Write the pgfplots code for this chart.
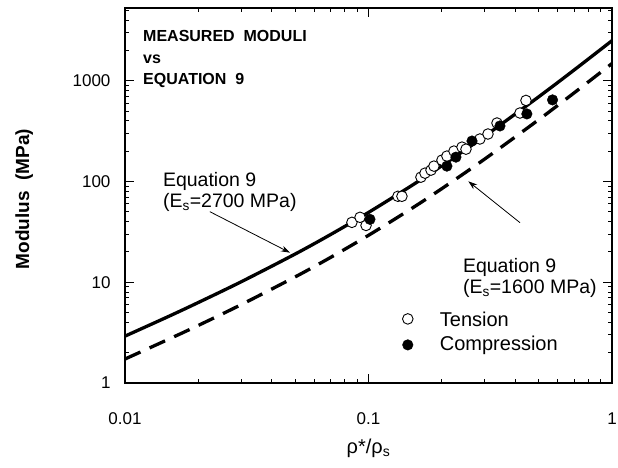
\documentclass[border=0pt]{standalone}
\usepackage{pgfplots}
\pgfplotsset{compat=1.18}
\usepackage{fontspec}
\setmainfont{Liberation Sans}
\usetikzlibrary{arrows.meta}
\begin{document}
\begin{tikzpicture}[x=1pt,y=1pt]
\useasboundingbox (-125,-85) rectangle (493,383);
\begin{axis}[
  scale only axis,
  width=487pt, height=375pt,
  xmode=log, ymode=log,
  xmin=0.01, xmax=1, ymin=1, ymax=5300,
  xtick={0.01,0.1,1}, xticklabels={0.01,0.1,1},
  ytick={1,10,100,1000}, yticklabels={1,10,100,1000},
  minor xtick={0.02,0.03,0.04,0.05,0.06,0.07,0.08,0.09,0.2,0.3,0.4,0.5,0.6,0.7,0.8,0.9},
  minor ytick={2,3,4,5,6,7,8,9,20,30,40,50,60,70,80,90,200,300,400,500,600,700,800,900,2000,3000,4000,5000},
  tick align=inside,
  major tick length=9pt, minor tick length=4.5pt,
  every tick/.style={black, line width=1pt},
  axis line style={line width=1.3pt},
  tick pos=both,
  /pgf/number format/assume math mode=true,
  tick label style={font=\fontsize{17}{20}\selectfont},
  xticklabel style={yshift=-26pt},
  yticklabel style={xshift=-11pt},
  xlabel={ρ*/ρ\textsubscript{s}},
  xlabel style={font=\fontsize{20}{23}\selectfont, at={(axis description cs:0.5,0)}, anchor=center, yshift=-65pt},
  ylabel={\textbf{Modulus\ \ (MPa)}},
  ylabel style={font=\fontsize{19}{22}\selectfont, at={(axis description cs:-0.207,0.49)}, anchor=center},
  clip=false,
]
% Equation 9, Es=2700 MPa
\addplot[black, line width=3.3pt, smooth] coordinates {
(0.01,2.92)(0.015,4.55)(0.02,6.30)(0.03,10.12)(0.05,19.10)(0.07,29.88)(0.1,49.41)(0.15,90.92)(0.2,143.6)(0.3,282.7)(0.5,695.3)(0.7,1287)(1,2511)};
% Equation 9, Es=1600 MPa
\addplot[black, line width=3.3pt, smooth, dash pattern=on 17pt off 10pt] coordinates {
(0.01,1.73)(0.015,2.70)(0.02,3.73)(0.03,6.00)(0.05,11.32)(0.07,17.71)(0.1,29.28)(0.15,53.88)(0.2,85.12)(0.3,167.5)(0.5,412)(0.7,762.7)(1,1488)};
% Tension
\addplot[only marks, mark=*, mark size=5.3pt, mark options={fill=white, draw=black, line width=0.9pt}] coordinates {
(0.0855,39.4)(0.0923,44.2)(0.0977,36.7)(0.1321,71.5)(0.1372,71.5)(0.1642,110.7)(0.1706,121.3)(0.1806,130)(0.1857,142.5)(0.2003,163.5)(0.2099,179.2)(0.2244,201)(0.2421,220)(0.2514,210)(0.2868,265)(0.3095,297)(0.3371,382)(0.4188,480)(0.4433,640)};
% Compression
\addplot[only marks, mark=*, mark size=5.3pt, mark options={fill=black, draw=black}] coordinates {
(0.1014,42.2)(0.2099,142.5)(0.2286,175)(0.2661,253)(0.3467,357)(0.447,470)(0.57,648)};
% legend
\addplot[only marks, mark=*, mark size=5.3pt, mark options={fill=white, draw=black, line width=0.9pt}] coordinates {(0.145,4.33)};
\addplot[only marks, mark=*, mark size=5.3pt, mark options={fill=black, draw=black}] coordinates {(0.145,2.39)};
\node[anchor=west, font=\fontsize{20}{24}\selectfont] at (axis cs:0.19,4.33) {Tension};
\node[anchor=west, font=\fontsize{20}{24}\selectfont] at (axis cs:0.19,2.39) {Compression};
% title
\node[anchor=north west, align=left, inner sep=0pt, font=\bfseries\fontsize{16}{21.5}\selectfont] at (rel axis cs:0.037,0.94) {MEASURED\ \ MODULI\\vs\\EQUATION\ \ 9};
% annotations
\node[anchor=north west, align=left, font=\fontsize{19.5}{21}\selectfont, inner sep=0pt] at (axis cs:0.0143,125) {Equation 9\\(E\textsubscript{s}=2700 MPa)};
\draw[-{Stealth[length=9pt,width=6pt]}, line width=0.8pt] (axis cs:0.0223,50.3) -- (axis cs:0.0476,19.7);
\node[anchor=north west, align=left, font=\fontsize{19.5}{21}\selectfont, inner sep=0pt] at (axis cs:0.244,17.5) {Equation 9\\(E\textsubscript{s}=1600 MPa)};
\draw[-{Stealth[length=9pt,width=6pt]}, line width=0.8pt] (axis cs:0.419,39.1) -- (axis cs:0.257,100.7);
\end{axis}
\end{tikzpicture}
\end{document}
